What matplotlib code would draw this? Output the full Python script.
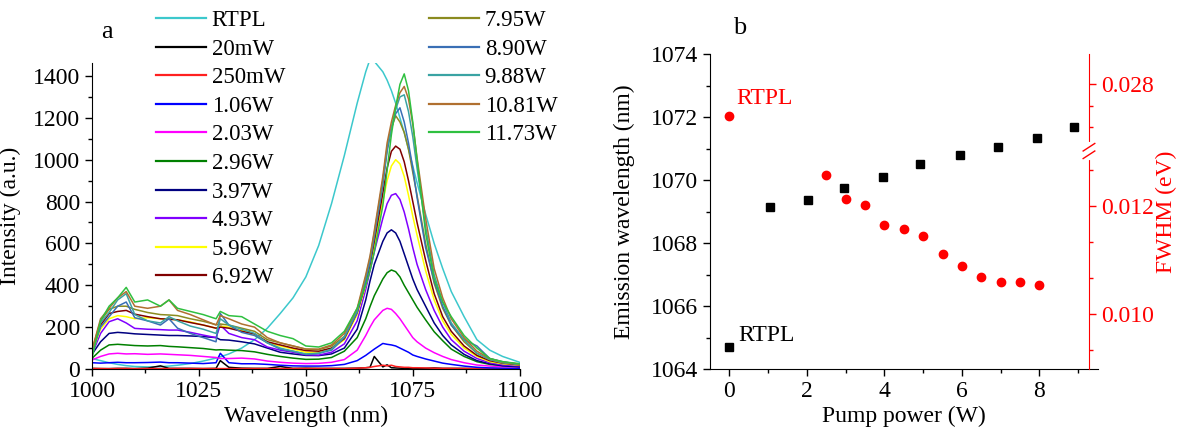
import numpy as np
import matplotlib
matplotlib.use("Agg")
import matplotlib.pyplot as plt
from matplotlib.ticker import MultipleLocator, FixedLocator, FormatStrFormatter

plt.rcParams['font.family'] = ['Liberation Serif', 'DejaVu Serif']
plt.rcParams['font.size'] = 17

# ---- panel a: PL spectra ----
wl = [1000, 1002, 1004, 1006, 1008, 1010, 1013, 1016, 1018, 1020, 1023, 1026, 1029, 1030,
      1032, 1035, 1038, 1041, 1044, 1047, 1050, 1053, 1056, 1059, 1062, 1064, 1065, 1066,
      1068, 1069, 1070, 1071, 1072, 1073, 1074, 1075, 1076, 1078, 1080, 1082, 1084, 1087,
      1090, 1093, 1096, 1100]

rtpl = [50, 40, 30, 22, 16, 12, 10, 11, 14, 18, 26, 38, 52, 58, 72, 100, 140, 195, 265, 340,
        440, 590, 790, 1020, 1270, 1420, 1480, 1470, 1420, 1380, 1330, 1270, 1200, 1130, 1050,
        970, 890, 740, 600, 480, 370, 250, 140, 90, 60, 32]
p_20mw = [3, 2, 2, 3, 3, 2, 4, 15, 3, 3, 3, 2, 3, 40, 8, 4, 3, 3, 12, 3, 4, 3, 3, 3, 4, 6, 8,
          60, 10, 20, 6, 5, 4, 3, 3, 3, 3, 3, 5, 3, 3, 3, 2, 2, 2, 2]
p_250mw = [2, 2, 1, 2, 2, 1, 2, 2, 2, 2, 2, 2, 2, 2, 2, 2, 2, 2, 2, 2, 2, 2, 2, 2, 4, 6, 8, 12,
           18, 15, 18, 12, 10, 8, 8, 6, 6, 5, 4, 3, 3, 2, 2, 2, 2, 2]
p_1_06 = [30, 28, 30, 32, 30, 30, 31, 33, 30, 30, 28, 26, 30, 75, 30, 25, 25, 22, 18, 15, 14,
          14, 16, 22, 40, 65, 80, 95, 122, 118, 115, 110, 100, 90, 80, 67, 60, 48, 38, 28, 22,
          14, 8, 5, 4, 3]
p_2_03 = [43, 60, 72, 75, 72, 73, 70, 72, 70, 68, 65, 60, 55, 50, 50, 52, 48, 38, 32, 28, 26,
          27, 32, 45, 90, 160, 200, 235, 280, 290, 285, 265, 240, 210, 180, 150, 130, 100, 78,
          60, 45, 30, 19, 14, 11, 10]
p_2_96 = [51, 90, 115, 118, 115, 112, 110, 112, 108, 106, 102, 98, 91, 92, 90, 88, 82, 70, 60,
          52, 46, 47, 55, 85, 150, 240, 298, 350, 430, 460, 473, 465, 440, 400, 365, 330, 295,
          235, 178, 135, 95, 60, 35, 22, 17, 14]
p_3_97 = [70, 130, 170, 175, 172, 168, 165, 162, 160, 160, 158, 155, 150, 140, 138, 130, 120,
          100, 80, 72, 65, 64, 72, 100, 190, 330, 420, 500, 610, 650, 665, 650, 610, 550, 490,
          430, 380, 300, 220, 160, 115, 70, 40, 25, 15, 10]
p_4_93 = [70, 170, 226, 240, 220, 194, 190, 188, 186, 186, 175, 162, 150, 210, 170, 150, 140,
          105, 90, 80, 68, 66, 80, 120, 230, 380, 470, 560, 720, 790, 830, 838, 810, 750, 670,
          580, 500, 380, 280, 200, 140, 85, 50, 30, 20, 15]
p_5_96 = [80, 190, 240, 255, 250, 240, 245, 240, 238, 235, 225, 210, 195, 205, 200, 185, 165,
          125, 110, 95, 80, 78, 95, 140, 260, 400, 490, 590, 800, 900, 970, 1000, 980, 920, 830,
          730, 640, 470, 330, 230, 165, 100, 60, 35, 25, 18]
p_6_92 = [85, 210, 265, 275, 280, 262, 250, 240, 238, 235, 222, 210, 195, 200, 195, 180, 168,
          130, 115, 100, 88, 85, 100, 145, 270, 410, 500, 610, 840, 960, 1040, 1065, 1050, 990,
          900, 800, 700, 520, 360, 250, 180, 110, 65, 40, 28, 20]
p_7_95 = [90, 230, 285, 300, 300, 285, 270, 260, 258, 255, 240, 228, 212, 215, 210, 195, 180,
          140, 125, 110, 95, 92, 110, 155, 280, 430, 520, 640, 900, 1050, 1150, 1210, 1180,
          1130, 1050, 940, 830, 600, 410, 290, 210, 130, 75, 45, 30, 22]
p_8_90 = [80, 200, 250, 300, 320, 245, 230, 210, 240, 195, 170, 150, 130, 265, 210, 175, 160,
          125, 95, 85, 70, 75, 90, 150, 270, 420, 510, 630, 880, 1040, 1150, 1220, 1248, 1180,
          1080, 960, 820, 580, 420, 300, 210, 140, 110, 50, 35, 22]
p_9_88 = [85, 220, 270, 330, 360, 260, 230, 220, 250, 230, 205, 190, 170, 240, 210, 190, 170,
          125, 100, 85, 72, 75, 95, 155, 280, 440, 530, 650, 900, 1060, 1150, 1240, 1300, 1310,
          1230, 1110, 960, 680, 450, 320, 220, 140, 75, 45, 30, 22]
p_10_81 = [90, 240, 290, 340, 370, 300, 290, 300, 330, 280, 260, 235, 210, 255, 240, 215, 200,
           150, 125, 110, 95, 95, 115, 170, 290, 450, 540, 660, 920, 1080, 1180, 1260, 1320,
           1350, 1290, 1170, 1010, 720, 480, 340, 240, 150, 85, 50, 33, 24]
p_11_73 = [50, 230, 300, 340, 390, 320, 330, 300, 330, 290, 275, 260, 240, 275, 255, 250, 215,
           180, 160, 145, 110, 105, 125, 180, 290, 400, 470, 560, 780, 950, 1120, 1250, 1360,
           1410, 1330, 1180, 1000, 650, 430, 320, 250, 160, 100, 50, 35, 25]

labels = ['RTPL', '20mW', '250mW', '1.06W', '2.03W', '2.96W', '3.97W', '4.93W', '5.96W',
          '6.92W', '7.95W', '8.90W', '9.88W', '10.81W', '11.73W']
spectra = [rtpl, p_20mw, p_250mw, p_1_06, p_2_03, p_2_96, p_3_97, p_4_93, p_5_96, p_6_92,
           p_7_95, p_8_90, p_9_88, p_10_81, p_11_73]
colors = ['#3CC8CC', 'black', '#FF2020', '#0000FF', '#FF00FF', '#008000', '#000080',
          '#8000FF', '#FFFF00', '#800000', '#8B8B1F', '#3A6FB5', '#3AA3A3', '#B07030', '#2FC040']

# ---- panel b ----
pump_w = [0, 1.06, 2.03, 2.96, 3.97, 4.93, 5.96, 6.92, 7.95, 8.90]
peak_nm = [1064.69, 1069.14, 1069.36, 1069.74, 1070.09, 1070.50, 1070.79, 1071.04, 1071.33, 1071.68]
fwhm_pump = [0, 2.5, 3.0, 3.5, 4.0, 4.5, 5.0, 5.5, 6.0, 6.5, 7.0, 7.5, 8.0]
fwhm_ev = [0.02654, 0.01258, 0.01213, 0.01202, 0.01165, 0.01158, 0.01145, 0.01111, 0.01088,
           0.01069, 0.01059, 0.01059, 0.01054]

W, H = 1181, 436
fig = plt.figure(figsize=(W / 100, H / 100), dpi=100)

def box(x0, x1, ytop, ybot):
    return [x0 / W, 1 - ybot / H, (x1 - x0) / W, (ybot - ytop) / H]

FS = 17

# ===== panel a =====
ax = fig.add_axes(box(92, 519.7, 63, 369))
for y, c, lab in zip(spectra, colors, labels):
    ax.plot(wl, y, color=c, lw=1.1, label=lab)
ax.set_xlim(1000, 1100)
ax.set_ylim(0, 1462)
ax.xaxis.set_major_locator(MultipleLocator(25))
ax.xaxis.set_minor_locator(MultipleLocator(12.5))
ax.yaxis.set_major_locator(MultipleLocator(200))
ax.yaxis.set_minor_locator(MultipleLocator(100))
ax.spines['top'].set_visible(False)
ax.spines['right'].set_visible(False)
ax.tick_params(which='major', direction='out', length=5, width=1, labelsize=FS)
ax.tick_params(which='minor', direction='out', length=3, width=1)
ax.set_xlabel('Wavelength (nm)', fontsize=FS, labelpad=3)
ax.set_ylabel('Intensity (a.u.)', fontsize=FS)
ax.yaxis.set_label_coords(-0.165, 0.5)

hs = ax.get_lines()
leg_kw = dict(loc='upper left', bbox_transform=fig.transFigure, frameon=False, fontsize=16.5,
              borderpad=0, borderaxespad=0, handlelength=2.2, handletextpad=0.25,
              labelspacing=0.33)
leg1 = ax.legend(hs[:10], labels[:10], bbox_to_anchor=(155.5 / W, 1 - 10 / H), **leg_kw)
ax.add_artist(leg1)
leg2 = ax.legend(hs[10:], labels[10:], bbox_to_anchor=(428.5 / W, 1 - 10 / H), **leg_kw)
for lg in (leg1, leg2):
    for l in lg.get_lines():
        l.set_linewidth(1.6)

fig.text(107 / W, 1 - 32 / H, 'a', fontsize=19, ha='center', va='center')

# ===== panel b =====
axb = fig.add_axes(box(710, 1097.5, 54.3, 369))
axb.plot(pump_w, peak_nm, 's', color='black', ms=5.5, ls='none')
axb.set_xlim(-0.5, 9.5)
axb.set_ylim(1064, 1074)
axb.xaxis.set_major_locator(MultipleLocator(2))
axb.xaxis.set_minor_locator(MultipleLocator(1))
axb.yaxis.set_major_locator(MultipleLocator(2))
axb.yaxis.set_minor_locator(MultipleLocator(1))
axb.spines['top'].set_visible(False)
axb.spines['right'].set_visible(False)
axb.tick_params(which='major', direction='out', length=5, width=1, labelsize=FS)
axb.tick_params(which='minor', direction='out', length=3, width=1)
axb.set_xlabel('Pump power (W)', fontsize=FS, labelpad=3)
axb.set_ylabel('Emission wavelength (nm)', fontsize=FS)
axb.yaxis.set_label_coords(-0.1925, 0.5)
axb.text(0.17, 1072.6, 'RTPL', color='red', fontsize=FS, va='center', ha='left')
axb.text(0.22, 1065.05, 'RTPL', color='black', fontsize=FS, va='center', ha='left')

# broken right axis for FWHM
v_knots = [0.0, 0.010, 0.0129, 0.0252, 0.028, 0.04]
t_knots = [-485.0, 55.0, 211.6, 224.5, 284.7, 542.7]

def fwd(v):
    return np.interp(v, v_knots, t_knots)

def inv(t):
    return np.interp(t, t_knots, v_knots)

ax2 = axb.twinx()
ax2.set_yscale('function', functions=(fwd, inv))
ax2.plot(fwhm_pump, fwhm_ev, 'o', color='red', ms=6, ls='none')
ax2.set_ylim(0.008981, 0.029395)
for s in ['top', 'left', 'bottom']:
    ax2.spines[s].set_visible(False)
ax2.spines['right'].set_position(('axes', 0.978))
ax2.spines['right'].set_color('red')
ax2.yaxis.set_major_locator(FixedLocator([0.010, 0.012, 0.028]))
ax2.yaxis.set_minor_locator(FixedLocator([0.00933, 0.01067, 0.01133, 0.01267, 0.026, 0.027, 0.0294]))
ax2.yaxis.set_major_formatter(FormatStrFormatter('%.3f'))
ax2.tick_params(which='major', direction='out', length=5, width=1, colors='red', labelsize=FS)
ax2.tick_params(which='minor', direction='out', length=3, width=1, colors='red')
ax2.set_ylabel('FWHM (eV)', color='red', fontsize=FS)
ax2.yaxis.set_label_coords(1.15, 0.5)

# break marks on the right spine
yb = 218.0 / 314.7
xb = 0.978
ax2.plot([xb, xb], [yb - 0.022, yb + 0.022], color='white', lw=3, transform=ax2.transAxes,
         clip_on=False, zorder=5)
for dy in (-0.012, 0.012):
    ax2.plot([xb - 0.015, xb + 0.015], [yb + dy - 0.012, yb + dy + 0.012], color='red', lw=1,
             transform=ax2.transAxes, clip_on=False, zorder=6)

fig.text(740 / W, 1 - 27.7 / H, 'b', fontsize=19, ha='center', va='center')

fig.savefig('out.png', dpi=100)
